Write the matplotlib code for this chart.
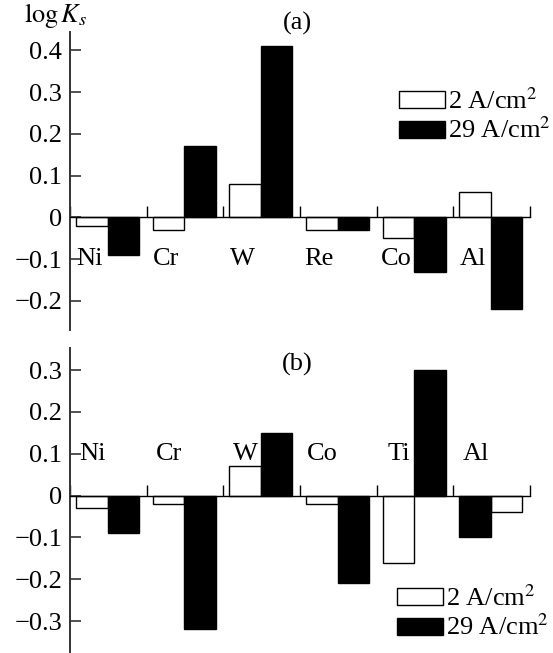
import matplotlib
matplotlib.use("Agg")
import matplotlib.pyplot as plt
from matplotlib.patches import Patch

plt.rcParams["font.family"] = ["Liberation Serif", "DejaVu Serif"]
plt.rcParams["mathtext.fontset"] = "stix"
plt.rcParams["axes.unicode_minus"] = True

# Panel (a)
elements_a = ["Ni", "Cr", "W", "Re", "Co", "Al"]
low_a = [-0.02, -0.03, 0.08, -0.03, -0.05, 0.06]     # 2 A/cm2
high_a = [-0.09, 0.17, 0.41, -0.03, -0.13, -0.22]    # 29 A/cm2

# Panel (b)
elements_b = ["Ni", "Cr", "W", "Co", "Ti", "Al"]
low_b = [-0.03, -0.02, 0.07, -0.02, -0.16, -0.04]
high_b = [-0.09, -0.32, 0.15, -0.21, 0.30, -0.10]
swap_b = [False, False, False, False, False, True]   # Al: 29 A/cm2 bar drawn first

yticks_a = [-0.2, -0.1, 0, 0.1, 0.2, 0.3, 0.4]
yticks_b = [-0.3, -0.2, -0.1, 0, 0.1, 0.2, 0.3]
legend_labels = ["2 A/cm$^2$", "29 A/cm$^2$"]

FS = 19
W = 553
H = 653
fig = plt.figure(figsize=(W / 100, H / 100), dpi=100)


def fmt(v):
    if abs(v) < 1e-9:
        return "0"
    return f"{v:.1f}".replace("-", "\u2212")


def panel(rect, names, low, high, swap, yticks, ylim, label_y, label_dx, title, legend_loc):
    ax = fig.add_axes(rect)
    bw = 0.41
    for i in range(len(names)):
        s = swap[i] if swap else False
        x_low = i + (0.49 if s else 0.08)
        x_high = i + (0.08 if s else 0.49)
        ax.bar(x_low, low[i], width=bw, align="edge", color="white",
               edgecolor="black", linewidth=1.0, zorder=3)
        ax.bar(x_high, high[i], width=bw, align="edge", color="black",
               edgecolor="black", linewidth=1.0, zorder=3)
        ax.text(i + label_dx, label_y, names[i], fontsize=FS, ha="center",
                va="center", zorder=4)
    ax.set_xlim(0, len(names))
    ax.set_ylim(*ylim)
    for side in ("top", "right"):
        ax.spines[side].set_visible(False)
    ax.spines["left"].set_linewidth(1.4)
    ax.spines["left"].set_color("#333333")
    ax.spines["bottom"].set_position(("data", 0))
    ax.spines["bottom"].set_linewidth(1.0)
    ax.spines["bottom"].set_zorder(5)
    ax.set_yticks(yticks)
    ax.set_yticklabels([fmt(v) for v in yticks], fontsize=FS)
    ax.tick_params(axis="y", direction="in", length=8, width=1.2, pad=5.5,
                   color="#333333")
    ax.set_xticks(range(len(names) + 1))
    ax.set_xticklabels([])
    ax.tick_params(axis="x", direction="in", length=8, width=1.0)
    ax.patch.set_visible(False)
    ax.text(0.495, title[1], title[0], transform=ax.transAxes, fontsize=FS,
            ha="center", va="center")
    handles = [Patch(facecolor="white", edgecolor="black", linewidth=1.0),
               Patch(facecolor="black", edgecolor="black", linewidth=1.0)]
    ax.legend(handles, legend_labels, loc="upper left", bbox_to_anchor=legend_loc,
              frameon=False, fontsize=FS, handlelength=1.75, handleheight=0.62,
              handletextpad=0.1, labelspacing=0.15, borderpad=0, borderaxespad=0)
    return ax


ax_a = panel([70 / W, 1 - 330 / H, 460 / W, 298 / H], elements_a, low_a, high_a,
             None, yticks_a, (-0.27, 0.444), -0.1, 0.25, ("(a)", 1.03),
             ((399 - 70) / 460, (330 - 88) / 298))
ax_a.text(-0.1, 1.055, r"$\mathrm{log}\,K_s$", transform=ax_a.transAxes,
          fontsize=FS, ha="left", va="center")

ax_b = panel([70 / W, 1 - 652 / H, 460 / W, 304 / H], elements_b, low_b, high_b,
             swap_b, yticks_b, (-0.374, 0.353), 0.1, 0.29, ("(b)", (652 - 364) / 304),
             ((397 - 70) / 460, (652 - 585) / 304))

fig.savefig("out.png", dpi=100)
